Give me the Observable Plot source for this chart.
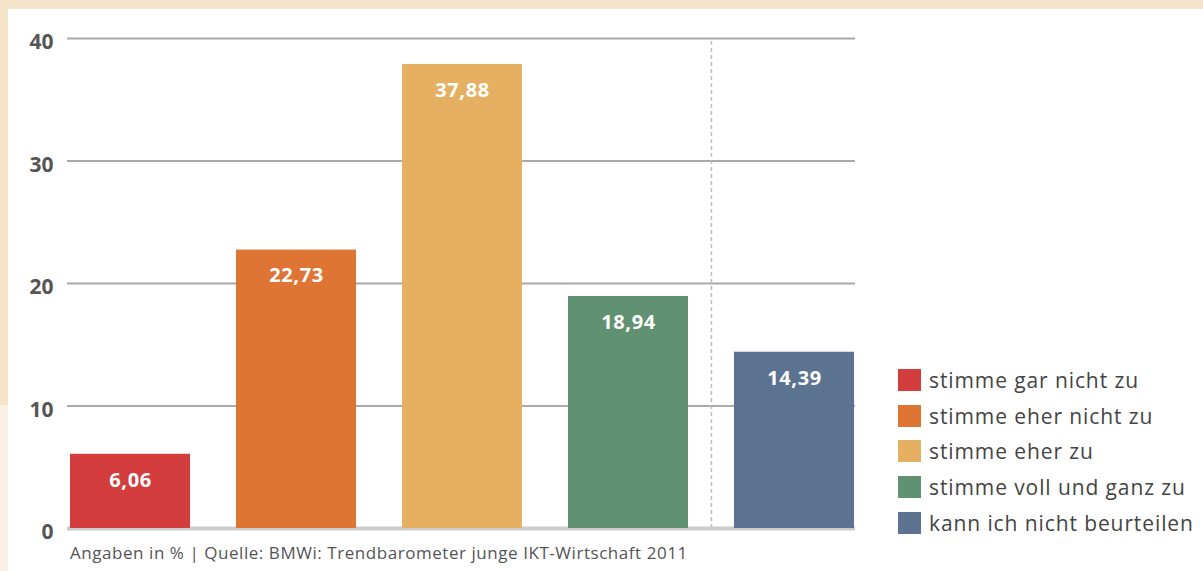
<!DOCTYPE html>
<html>
<head>
<meta charset="utf-8">
<script src="https://cdn.jsdelivr.net/npm/d3@7"></script>
<script src="https://cdn.jsdelivr.net/npm/@observablehq/plot@0.6"></script>
<style>
  html, body { margin: 0; padding: 0; }
  body { width: 1203px; height: 571px; position: relative; overflow: hidden; background: #f5e4c9; font-family: "Open Sans", sans-serif; }
  #panel { position: absolute; left: 8px; top: 9px; right: 0; bottom: 0; background: #fff; }
  #strip { position: absolute; left: 0; top: 405px; width: 8px; bottom: 0; background: #f9f0e1; }
  #chart { position: absolute; left: 0; top: 0; }
  #legend { position: absolute; left: 898px; top: 362px; }
  .row { display: flex; align-items: center; height: 35.7px; }
  .sw { width: 23px; height: 22px; margin-right: 8px; }
  .lab { font-size: 21px; color: #444; letter-spacing: 0.9px; }
  #caption { position: absolute; left: 70px; top: 541px; font-size: 17px; color: #555; letter-spacing: 0.55px; }
</style>
</head>
<body>
<div id="panel"></div>
<div id="strip"></div>
<div id="chart"></div>
<div id="legend"></div>
<div id="caption">Angaben in % | Quelle: BMWi: Trendbarometer junge IKT-Wirtschaft 2011</div>
<script>
const categories = ["stimme gar nicht zu", "stimme eher nicht zu", "stimme eher zu", "stimme voll und ganz zu", "kann ich nicht beurteilen"];
const values = [6.06, 22.73, 37.88, 18.94, 14.39];
const colors = ["#d43d3e", "#df7535", "#e5b062", "#609170", "#5b7290"];
const yTicks = [0, 10, 20, 30, 40];

const data = categories.map((c, i) => ({cat: c, val: values[i], color: colors[i]}));
const fmt = v => d3.format(".2f")(v).replace(".", ",");

const chart = Plot.plot({
  width: 880,
  height: 571,
  marginLeft: 67,
  marginRight: 25,
  marginTop: 38,
  marginBottom: 43,
  style: {background: "transparent", fontFamily: "Open Sans, sans-serif"},
  x: {type: "band", domain: categories, range: [70, 854], paddingInner: 0.277, paddingOuter: 0, round: false, axis: null},
  y: {domain: [0, 40], ticks: yTicks, label: null},
  marks: [
    Plot.ruleY(yTicks.filter(t => t > 0), {stroke: "#aaa", strokeWidth: 2}),
    Plot.ruleX([categories[4]], {dx: -83, y1: 0, y2: 40, stroke: "#bbb", strokeWidth: 1.5, strokeDasharray: "4,3"}),
    Plot.ruleY([0], {stroke: "#ccc", strokeWidth: 4}),
    Plot.barY(data, {x: "cat", y: "val", fill: "color"}),
    Plot.text(data, {x: "cat", y: "val", text: d => fmt(d.val), dy: 26, fill: "white", fontWeight: "bold", fontSize: 20}),
    Plot.axisY({ticks: yTicks, tickSize: 0, tickPadding: 14, fontSize: 21, fontWeight: "bold", fill: "#555", label: null, tickFormat: d => String(d), dy: 4})
  ]
});
chart.querySelectorAll("text").forEach(t => { if (t.closest("g[aria-label='text']")) t.style.letterSpacing = "0.6px"; });
document.getElementById("chart").appendChild(chart);

const legend = document.getElementById("legend");
data.forEach(d => {
  const row = document.createElement("div");
  row.className = "row";
  const sw = document.createElement("div");
  sw.className = "sw";
  sw.style.background = d.color;
  const lab = document.createElement("span");
  lab.className = "lab";
  lab.textContent = d.cat;
  row.appendChild(sw);
  row.appendChild(lab);
  legend.appendChild(row);
});
</script>
</body>
</html>
